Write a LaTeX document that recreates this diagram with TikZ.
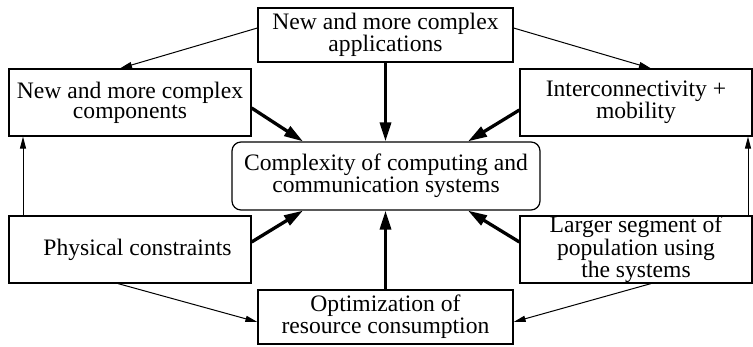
\documentclass[tikz,border=0pt]{standalone}
\usepackage{fontspec}
\setmainfont{Liberation Serif}
\usetikzlibrary{arrows.meta}
\begin{document}
\begin{tikzpicture}[x=1pt,y=-1pt,
  box/.style={draw,line width=1.2pt,rectangle,inner sep=0pt,align=center,
    font=\fontsize{23.6}{20}\selectfont},
  thin/.style={line width=1pt,-{Triangle[length=12pt,width=6pt]}},
  thick/.style={line width=3.3pt,-{Triangle[length=19pt,width=11pt]}}]
\useasboundingbox (0,0) rectangle (753,347);

% boxes
\node[box,minimum width=255pt,minimum height=54pt] (top) at (385.5,35)
  {New and more complex\\applications};
\node[box,minimum width=242pt,minimum height=67pt] (comp) at (130,102.5)
  {New and more complex\\components};
\node[box,minimum width=232pt,minimum height=67pt] (inter) at (636,102.5)
  {Interconnectivity +\\mobility};
\node[box,rounded corners=9pt,minimum width=308pt,minimum height=68pt] (cen) at (386,176)
  {Complexity of computing and\\communication systems};
\node[box,minimum width=242pt,minimum height=67pt] (phys) at (130,249.5)
  {\hspace*{15pt}Physical constraints};
\node[box,minimum width=232pt,minimum height=67pt] (larger) at (636,249.5)
  {Larger segment of\\population using\\the systems};
\node[box,minimum width=255pt,minimum height=54pt] (opt) at (385.5,317)
  {Optimization of\\resource consumption};

% thin connectors around the outside
\draw[thin] ([yshift=7pt]top.west) -- ([xshift=-10pt]comp.north);
\draw[thin] ([yshift=7pt]top.east) -- ([xshift=15pt]inter.north);
\draw[thin] ([xshift=-12pt]phys.south) -- ([yshift=-5pt]opt.west);
\draw[thin] ([xshift=15pt]larger.south) -- ([yshift=-5pt]opt.east);
\draw[thin] ([xshift=-107pt]phys.north) -- ([xshift=-107pt]comp.south);
\draw[thin] ([xshift=112pt]larger.north) -- ([xshift=112pt]inter.south);

% thick connectors into the central box
\draw[thick] (top.south) -- (top.south |- cen.north);
\draw[thick] ([yshift=-5.5pt]comp.east) -- ([xshift=-83pt]cen.north);
\draw[thick] ([yshift=-7.5pt]inter.west) -- ([xshift=82pt]cen.north);
\draw[thick] ([yshift=7.5pt]phys.east) -- ([xshift=-83pt]cen.south);
\draw[thick] ([yshift=7.5pt]larger.west) -- ([xshift=82pt]cen.south);
\draw[thick] (opt.north) -- (opt.north |- cen.south);
\end{tikzpicture}
\end{document}
